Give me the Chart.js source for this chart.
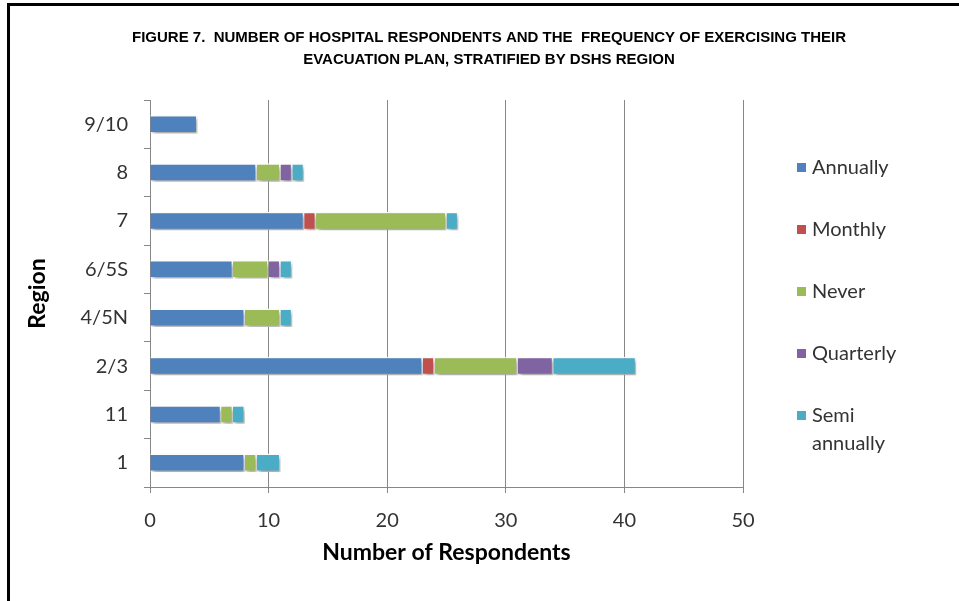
<!DOCTYPE html>
<html>
<head>
<meta charset="utf-8">
<script src="https://cdn.jsdelivr.net/npm/chart.js@4"></script>
<style>
  html, body { margin: 0; padding: 0; background: #fff; }
  #wrap { position: relative; width: 959px; height: 601px; overflow: hidden; }
  #frame {
    position: absolute; left: 7px; top: 3px; right: -10px; bottom: -10px;
    border-top: 3px solid #000; border-left: 3px solid #000;
    pointer-events: none;
  }
  canvas { position: absolute; left: 0; top: 0; }
</style>
</head>
<body>
<div id="wrap">
  <canvas id="evacChart" width="959" height="601"></canvas>
  <div id="frame"></div>
</div>
<script>
const regions = ["9/10", "8", "7", "6/5S", "4/5N", "2/3", "11", "1"];
const annually     = [4, 9, 13, 7, 8, 23, 6, 8];
const monthly      = [0, 0, 1, 0, 0, 1, 0, 0];
const never        = [0, 2, 11, 3, 3, 7, 1, 1];
const quarterly    = [0, 1, 0, 1, 0, 3, 0, 0];
const semiAnnually = [0, 1, 1, 1, 1, 7, 1, 2];
const xTicks = [0, 10, 20, 30, 40, 50];

const seriesNames = ["Annually", "Monthly", "Never", "Quarterly", ["Semi", "annually"]];
const seriesColors = ["#4F81BD", "#C0504D", "#9BBB59", "#8064A2", "#4BACC6"];
const seriesData = [annually, monthly, never, quarterly, semiAnnually];

const titleLines = [
  "FIGURE 7.  NUMBER OF HOSPITAL RESPONDENTS AND THE  FREQUENCY OF EXERCISING THEIR",
  "EVACUATION PLAN, STRATIFIED BY DSHS REGION"
];

const textColor = "#333333";
const gridColor = "#878787";
const baseFont = "Lato, 'Open Sans', sans-serif";

// soft drop shadow under the bars
const barShadow = {
  id: "barShadow",
  beforeDatasetsDraw(chart) {
    const ctx = chart.ctx;
    ctx.save();
    ctx.shadowColor = "rgba(0,0,0,0.35)";
    ctx.shadowBlur = 4;
    ctx.shadowOffsetX = 2;
    ctx.shadowOffsetY = 3;
  },
  afterDatasetsDraw(chart) {
    chart.ctx.restore();
  }
};

// two-line heading, centred over the whole figure
const heading = {
  id: "heading",
  afterDraw(chart) {
    const ctx = chart.ctx;
    ctx.save();
    ctx.font = "bold 15px 'Liberation Sans', Arial, sans-serif";
    ctx.fillStyle = "#000";
    ctx.textAlign = "center";
    ctx.textBaseline = "middle";
    titleLines.forEach((line, i) => ctx.fillText(line, 489, 38 + i * 22));
    ctx.restore();
  }
};

// legend on the right, one row per series, wrapped label for the last one
const sideLegend = {
  id: "sideLegend",
  afterDraw(chart) {
    const ctx = chart.ctx;
    const x = chart.chartArea.right + 54;
    let y = chart.chartArea.top + 68;
    ctx.save();
    ctx.font = "20px " + baseFont;
    ctx.textBaseline = "middle";
    chart.data.datasets.forEach(ds => {
      ctx.fillStyle = ds.backgroundColor;
      ctx.fillRect(x, y - 5, 9, 9);
      ctx.fillStyle = textColor;
      const lines = [].concat(ds.label);
      lines.forEach((line, i) => ctx.fillText(line, x + 15, y + i * 28));
      y += 62;
    });
    ctx.restore();
  }
};

new Chart(document.getElementById("evacChart"), {
  type: "bar",
  data: {
    labels: regions,
    datasets: seriesData.map((values, i) => ({
      label: seriesNames[i],
      data: values,
      backgroundColor: seriesColors[i],
      borderColor: "#ffffff",
      borderWidth: 1.5,
      barPercentage: 0.38,
      categoryPercentage: 1
    }))
  },
  options: {
    indexAxis: "y",
    responsive: false,
    animation: false,
    layout: { padding: { left: 8, right: 216, top: 100, bottom: 0 } },
    plugins: {
      legend: { display: false },
      tooltip: { enabled: false },
      title: { display: false }
    },
    scales: {
      x: {
        stacked: true,
        min: 0,
        max: 50,
        afterBuildTicks(scale) { scale.ticks = xTicks.map(v => ({ value: v })); },
        afterFit(scale) { scale.height = 114; },
        grid: { color: gridColor, lineWidth: 1, tickLength: 6, tickColor: gridColor },
        border: { color: gridColor },
        ticks: { color: textColor, font: { family: baseFont, size: 20 }, padding: 16 },
        title: {
          display: true,
          text: "Number of Respondents",
          color: "#000",
          font: { family: baseFont, size: 23, weight: "bold" },
          padding: { top: 0, bottom: 35 }
        }
      },
      y: {
        stacked: true,
        afterFit(scale) { scale.width = 142; },
        grid: { drawOnChartArea: false, color: gridColor, tickLength: 6, offset: true },
        border: { color: gridColor },
        ticks: { color: textColor, font: { family: baseFont, size: 20 }, padding: 16 },
        title: {
          display: true,
          text: "Region",
          color: "#000",
          font: { family: baseFont, size: 23, weight: "bold" },
          padding: { top: 16, bottom: 0 }
        }
      }
    }
  },
  plugins: [barShadow, heading, sideLegend]
});
</script>
</body>
</html>
